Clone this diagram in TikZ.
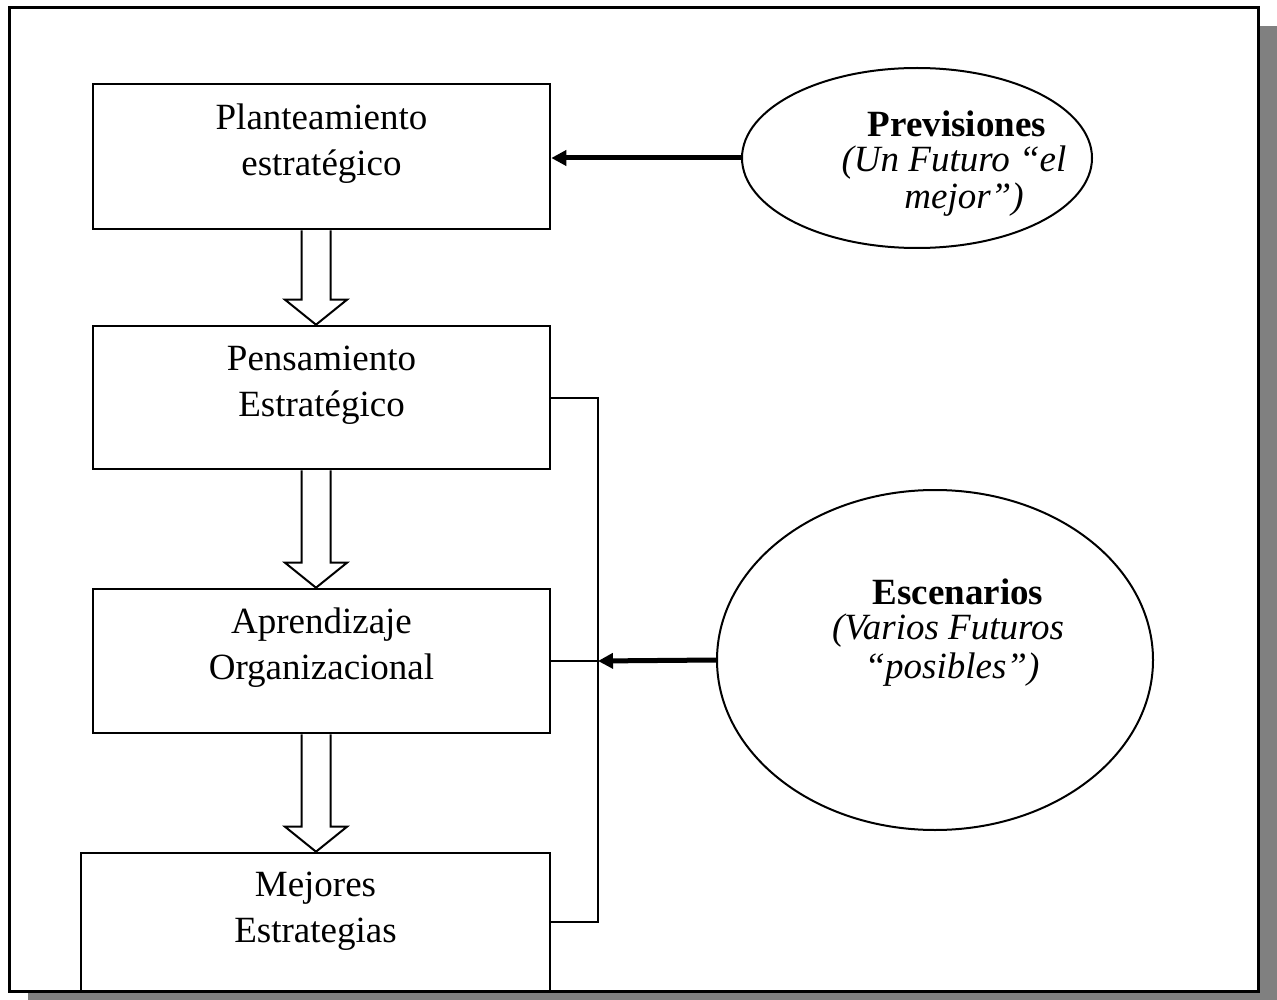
\documentclass[tikz,border=0pt]{standalone}
\usepackage{fontspec}
\setmainfont{Liberation Serif}
\usetikzlibrary{arrows.meta,shapes.geometric,calc}
\definecolor{shadowgray}{gray}{0.5}
\begin{document}
\begin{tikzpicture}[x=1pt,y=-1pt,
  box/.style={draw,line width=2.6pt,fill=white,inner sep=0pt},
  txt/.style={font=\fontsize{37}{46}\selectfont,align=center,inner sep=0pt},
  etxt/.style={inner sep=0pt},
  boldtxt/.style={etxt,font=\fontsize{37}{39}\selectfont\bfseries},
  ittxt/.style={etxt,font=\fontsize{37}{39}\selectfont\itshape},
  oval/.style={draw,ellipse,line width=2pt,inner sep=0pt},
  link/.style={line width=2pt},
  feed/.style={line width=5pt,-{Triangle[length=15pt,width=15pt]}},
  hollow/.style={draw,line width=2pt,fill=white,line join=miter}]
\useasboundingbox (0,0) rectangle (1277,1000);
% frame with drop shadow
\fill[shadowgray] (28,26) rectangle (1277,1000);
\draw[line width=3pt,fill=white] (9,8) rectangle (1258,991);

% process boxes
\node[box,minimum width=457pt,minimum height=145pt] (b1) at (321.5,156.5) {};
\node[box,minimum width=457pt,minimum height=143pt] (b2) at (321.5,397.5) {};
\node[box,minimum width=457pt,minimum height=144pt] (b3) at (321.5,661) {};
\node[box,minimum width=469pt,minimum height=138pt] (b4) at (315.5,922) {};

\node[txt] (t1) at (321.5,144) {Planteamiento\\estratégico};
\node[txt] (t2) at (321.5,385) {Pensamiento\\Estratégico};
\node[txt] (t3) at (321.5,648) {Aprendizaje\\Organizacional};
\node[txt] (t4) at (315.5,911) {Mejores\\Estrategias};

% hollow arrows between boxes
\foreach \u/\v in {b1/b2,b2/b3,b3/b4}
  \draw[hollow] let \p1=(\u.south), \p2=(\v.north) in
    (301.5pt,\y1) -- (301.5pt,\y2+25pt) -- (285pt,\y2+25pt) -- (316pt,\y2)
    -- (347pt,\y2+25pt) -- (330.5pt,\y2+25pt) -- (330.5pt,\y1);

% ellipses
\node[oval,minimum width=350pt,minimum height=180pt] (e1) at (917,158) {};
\node[oval,minimum width=436pt,minimum height=340pt] (e2) at (935,660) {};

\node[boldtxt] (p1) at (957,124) {Previsiones};
\node[ittxt] (p2) at (954,163) {(Un Futuro “el};
\node[ittxt] (p3) at (964,200) {mejor”)};

\node[boldtxt] (s1) at (958,592) {Escenarios};
\node[ittxt] (s2) at (948,631) {(Varios Futuros};
\node[ittxt] (s3) at (952,670) {“posibles”)};

% feedback bracket
\coordinate (jt) at (598,397.5);
\coordinate (jm) at (598,661);
\coordinate (jb) at (598,922);
\draw[link] (b2.east) -- (jt) -- (jb) -- (b4.east);
\draw[link] (b3.east) -- (jm);

% input arrows
\draw[feed] (e1.west) -- (e1.west -| b1.east);
\draw[feed] (e2.west) -- (jm);
\end{tikzpicture}
\end{document}
